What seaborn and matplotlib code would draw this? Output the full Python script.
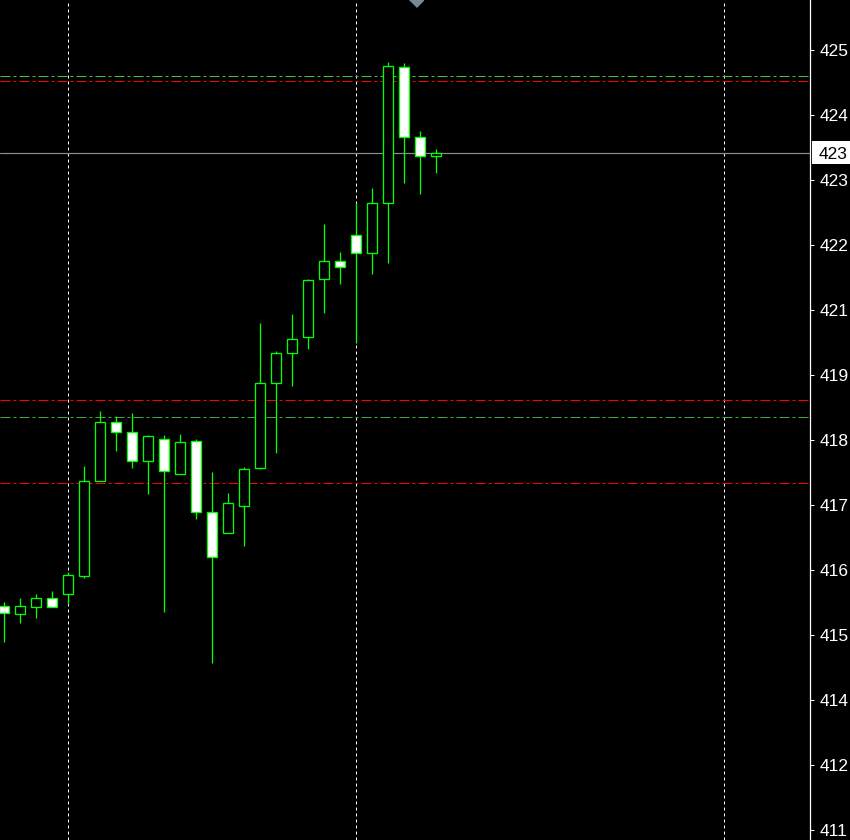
import numpy as np
import pandas as pd
import matplotlib
matplotlib.use("Agg")
import matplotlib.pyplot as plt
import matplotlib.transforms as mtransforms
from matplotlib.patches import Rectangle
import seaborn as sns

# Dark terminal-like theme
sns.set_theme(style="dark", rc={"axes.facecolor": "black", "figure.facecolor": "black"})
plt.rcParams['font.family'] = ['Liberation Sans', 'DejaVu Sans']

# Candles, oldest -> newest
opens = [4157.5, 4156.0, 4157.3, 4158.8, 4159.5, 4162.9, 4180.0, 4190.5, 4188.7, 4183.5,
         4187.4, 4181.1, 4187.1, 4174.3, 4170.5, 4175.5, 4182.2, 4197.5, 4202.9, 4205.8,
         4216.2, 4219.5, 4224.2, 4221.0, 4229.9, 4254.4, 4241.8, 4238.4]
highs = [4158.1, 4158.9, 4159.6, 4160.1, 4163.5, 4182.6, 4192.5, 4191.6, 4192.1, 4188.2,
         4188.2, 4188.4, 4187.5, 4181.5, 4177.8, 4182.4, 4208.4, 4203.3, 4210.0, 4216.3,
         4226.2, 4221.1, 4229.9, 4232.7, 4255.3, 4255.2, 4242.9, 4239.7]
lows = [4151.0, 4154.4, 4155.3, 4157.2, 4157.8, 4162.5, 4180.0, 4185.4, 4182.3, 4177.5,
        4156.4, 4181.1, 4173.1, 4147.2, 4170.5, 4168.3, 4182.0, 4185.0, 4197.1, 4203.6,
        4210.2, 4215.3, 4204.7, 4217.2, 4219.1, 4233.5, 4231.5, 4235.4]
closes = [4156.1, 4157.4, 4158.8, 4157.2, 4163.0, 4180.0, 4190.5, 4188.7, 4183.6, 4188.0,
          4181.7, 4186.9, 4174.3, 4166.2, 4175.9, 4182.0, 4197.5, 4202.9, 4205.4, 4216.1,
          4219.5, 4218.5, 4221.0, 4230.0, 4254.6, 4241.8, 4238.4, 4238.9]

# Horizontal levels
green_levels = [4252.8, 4191.4]
red_levels = [4251.9, 4194.5, 4179.6]

# Session separators (bar index)
session_bars = [4, 22, 45]

# Price scale (labels as shown, truncated by the chart edge)
price_ticks = [4257.5, 4245.8, 4234.1, 4222.4, 4210.7, 4199.0, 4187.3,
               4175.6, 4163.9, 4152.2, 4140.5, 4128.8, 4117.1]
tick_labels = ['425', '424', '423', '422', '421', '419', '418',
               '417', '416', '415', '414', '412', '411']
last_label = '423'
y_min, y_max = 4115.3, 4266.5

df = pd.DataFrame({'open': opens, 'high': highs, 'low': lows, 'close': closes})
df['bar'] = np.arange(len(df))
df['bull'] = df['close'] >= df['open']
last_price = df['close'].iloc[-1]

fig = plt.figure(figsize=(8.5, 8.4), dpi=100)
ax = fig.add_axes([0, 0, 810 / 850, 1])
ax.set_facecolor('black')

px = 0.72  # one pixel in points

# session separators
for b in session_bars:
    ax.axvline(b, color='white', lw=px, ls=(0, (3, 3)), zorder=1)

# levels
for i, lv in enumerate(green_levels):
    ax.axhline(lv, color='#32cd32' if i == 0 else '#3fa83f', lw=px, ls=(0, (10, 3, 3, 3)), zorder=1)
for lv in red_levels:
    ax.axhline(lv, color='#ff0000', lw=px, ls=(0, (10, 3, 3, 3)), zorder=1)

# last price line
ax.axhline(last_price, color='#8c8c8c', lw=px * 1.2, zorder=1.5)

# wicks and bodies
ax.vlines(df['bar'], df['low'], df['high'], color='#00ff00', lw=px * 1.3, zorder=2)
ax.bar(df['bar'], (df['close'] - df['open']).abs(), bottom=df[['open', 'close']].min(axis=1),
       width=0.625, color=np.where(df['bull'], 'black', 'white'),
       edgecolor='#00ff00', linewidth=px * 1.3, zorder=3)

# shift marker at top
ax.plot([0.514], [1.0], marker=[(-1, 0), (1, 0), (0, -1)], ms=10, color='#778899',
        transform=ax.transAxes, clip_on=False, zorder=5)

ax.set_xlim(-0.25, 50.375)
ax.set_ylim(y_min, y_max)
ax.set_xticks([])
ax.yaxis.tick_right()
ax.set_yticks(price_ticks)
ax.set_yticklabels(tick_labels)
ax.tick_params(axis='y', which='major', right=True, left=False, colors='white',
               length=3, width=px, pad=3.8, labelsize=12.5, direction='out')
ax.grid(False)
for side in ['left', 'top', 'bottom']:
    ax.spines[side].set_visible(False)
ax.spines['right'].set_visible(True)
ax.spines['right'].set_color('white')
ax.spines['right'].set_linewidth(0.9)

# current price box
per_px = (y_max - y_min) / 840
trans = mtransforms.blended_transform_factory(fig.transFigure, ax.transData)
fig.add_artist(Rectangle((812 / 850, last_price - 11 * per_px), 40 / 850, 23 * per_px,
                         transform=trans, facecolor='white', edgecolor='none', zorder=6))
fig.text(819 / 850, last_price, last_label, transform=trans, color='black',
         fontsize=12.5, va='center_baseline', ha='left', zorder=7)

fig.savefig('out.png', dpi=100, facecolor='black')
